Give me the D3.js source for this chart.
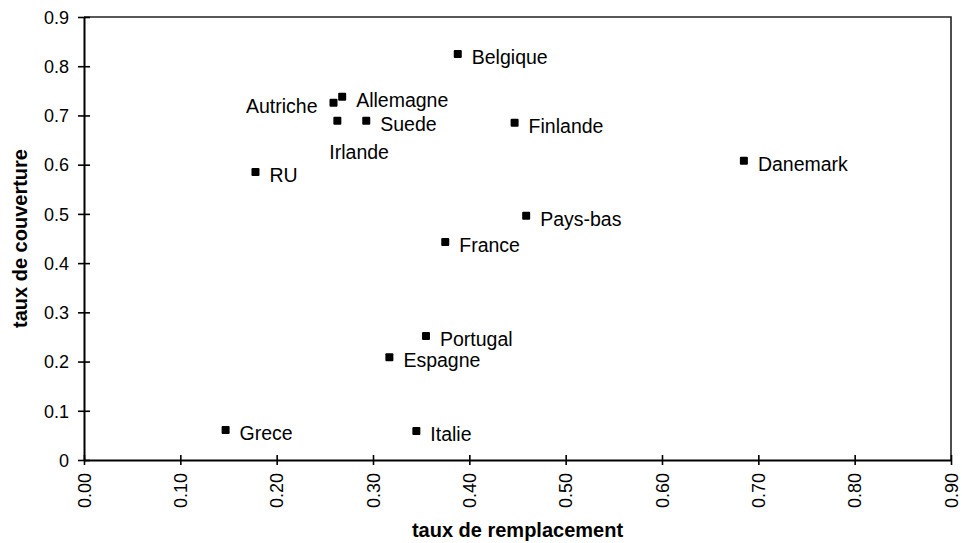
<!DOCTYPE html>
<html>
<head>
<meta charset="utf-8">
<script src="https://cdn.jsdelivr.net/npm/d3@7"></script>
<style>
  html, body { margin: 0; padding: 0; background: #fff; }
  svg { display: block; font-family: "Liberation Sans", Arial, sans-serif; }
</style>
</head>
<body>
<svg id="chart" width="962" height="543"></svg>
<script>
const countries = ["Belgique", "Allemagne", "Autriche", "Irlande", "Suede", "Finlande", "RU", "Danemark", "Pays-bas", "France", "Portugal", "Espagne", "Grece", "Italie"];
const remplacement = [0.388, 0.268, 0.259, 0.263, 0.293, 0.447, 0.178, 0.685, 0.459, 0.375, 0.355, 0.317, 0.147, 0.345];
const couverture = [0.825, 0.738, 0.726, 0.689, 0.689, 0.685, 0.585, 0.608, 0.496, 0.443, 0.252, 0.209, 0.061, 0.059];
const labelSide = ["right", "right", "left", "below", "right", "right", "right", "right", "right", "right", "right", "right", "right", "right"];
const xTicks = [0, 0.1, 0.2, 0.3, 0.4, 0.5, 0.6, 0.7, 0.8, 0.9];
const yTicks = [0, 0.1, 0.2, 0.3, 0.4, 0.5, 0.6, 0.7, 0.8, 0.9];
const xTitle = "taux de remplacement";
const yTitle = "taux de couverture";

const svg = d3.select("#chart");
const x = d3.scaleLinear().domain([0, 0.9]).range([84, 951]);
const y = d3.scaleLinear().domain([0, 0.9]).range([460, 17]);

// frame top/right
svg.append("path")
  .attr("d", `M${x(0)},${y(0.9)}H${x(0.9)}V${y(0)}`)
  .attr("fill", "none").attr("stroke", "#222").attr("stroke-width", 1.6);

// x axis
const gx = svg.append("g").attr("transform", `translate(0,${y(0)})`)
  .call(d3.axisBottom(x).tickValues(xTicks).tickFormat(d3.format(".2f")).tickSizeOuter(0).tickSizeInner(5));
gx.select(".domain").attr("stroke", "#000").attr("stroke-width", 2);
gx.selectAll(".tick line").attr("y1", -5).attr("y2", 5).attr("stroke", "#000").attr("stroke-width", 1.6);
gx.selectAll(".tick text")
  .attr("transform", "rotate(-90)")
  .attr("x", -13).attr("y", 0).attr("dy", "0.35em")
  .attr("text-anchor", "end")
  .attr("font-size", 18).attr("fill", "#000")
  .style("font-family", "'Liberation Sans', Arial, sans-serif");

// y axis
const gy = svg.append("g").attr("transform", `translate(${x(0)},0)`)
  .call(d3.axisLeft(y).tickValues(yTicks).tickFormat(d => d === 0 ? "0" : d3.format(".1f")(d)).tickSizeOuter(0).tickSizeInner(6));
gy.select(".domain").attr("stroke", "#000").attr("stroke-width", 2);
gy.selectAll(".tick line").attr("x1", -6).attr("x2", 6).attr("stroke", "#000").attr("stroke-width", 1.6);
gy.selectAll(".tick text")
  .attr("x", -15).attr("dy", "0.35em")
  .attr("font-size", 18).attr("fill", "#000")
  .style("font-family", "'Liberation Sans', Arial, sans-serif");

// points
const data = countries.map((c, i) => ({ name: c, rx: remplacement[i], cy: couverture[i], side: labelSide[i] }));
svg.append("g").selectAll("rect").data(data).join("rect")
  .attr("x", d => x(d.rx) - 4).attr("y", d => y(d.cy) - 4)
  .attr("width", 8).attr("height", 8).attr("rx", 1)
  .attr("fill", "#000");

svg.append("g").selectAll("text").data(data).join("text")
  .attr("x", d => d.side === "left" ? x(d.rx) - 16 : d.side === "below" ? x(d.rx) - 8 : x(d.rx) + 14)
  .attr("y", d => d.side === "below" ? y(d.cy) + 38 : y(d.cy) + 10)
  .attr("text-anchor", d => d.side === "left" ? "end" : "start")
  .attr("font-size", 19.5).attr("fill", "#000")
  .text(d => d.name);

// titles
svg.append("text")
  .attr("x", (x(0) + x(0.9)) / 2).attr("y", 537)
  .attr("text-anchor", "middle").attr("font-size", 20).attr("font-weight", "bold")
  .text(xTitle);
svg.append("text")
  .attr("transform", `translate(27,${(y(0) + y(0.9)) / 2}) rotate(-90)`)
  .attr("text-anchor", "middle").attr("font-size", 20).attr("font-weight", "bold")
  .text(yTitle);
</script>
</body>
</html>
